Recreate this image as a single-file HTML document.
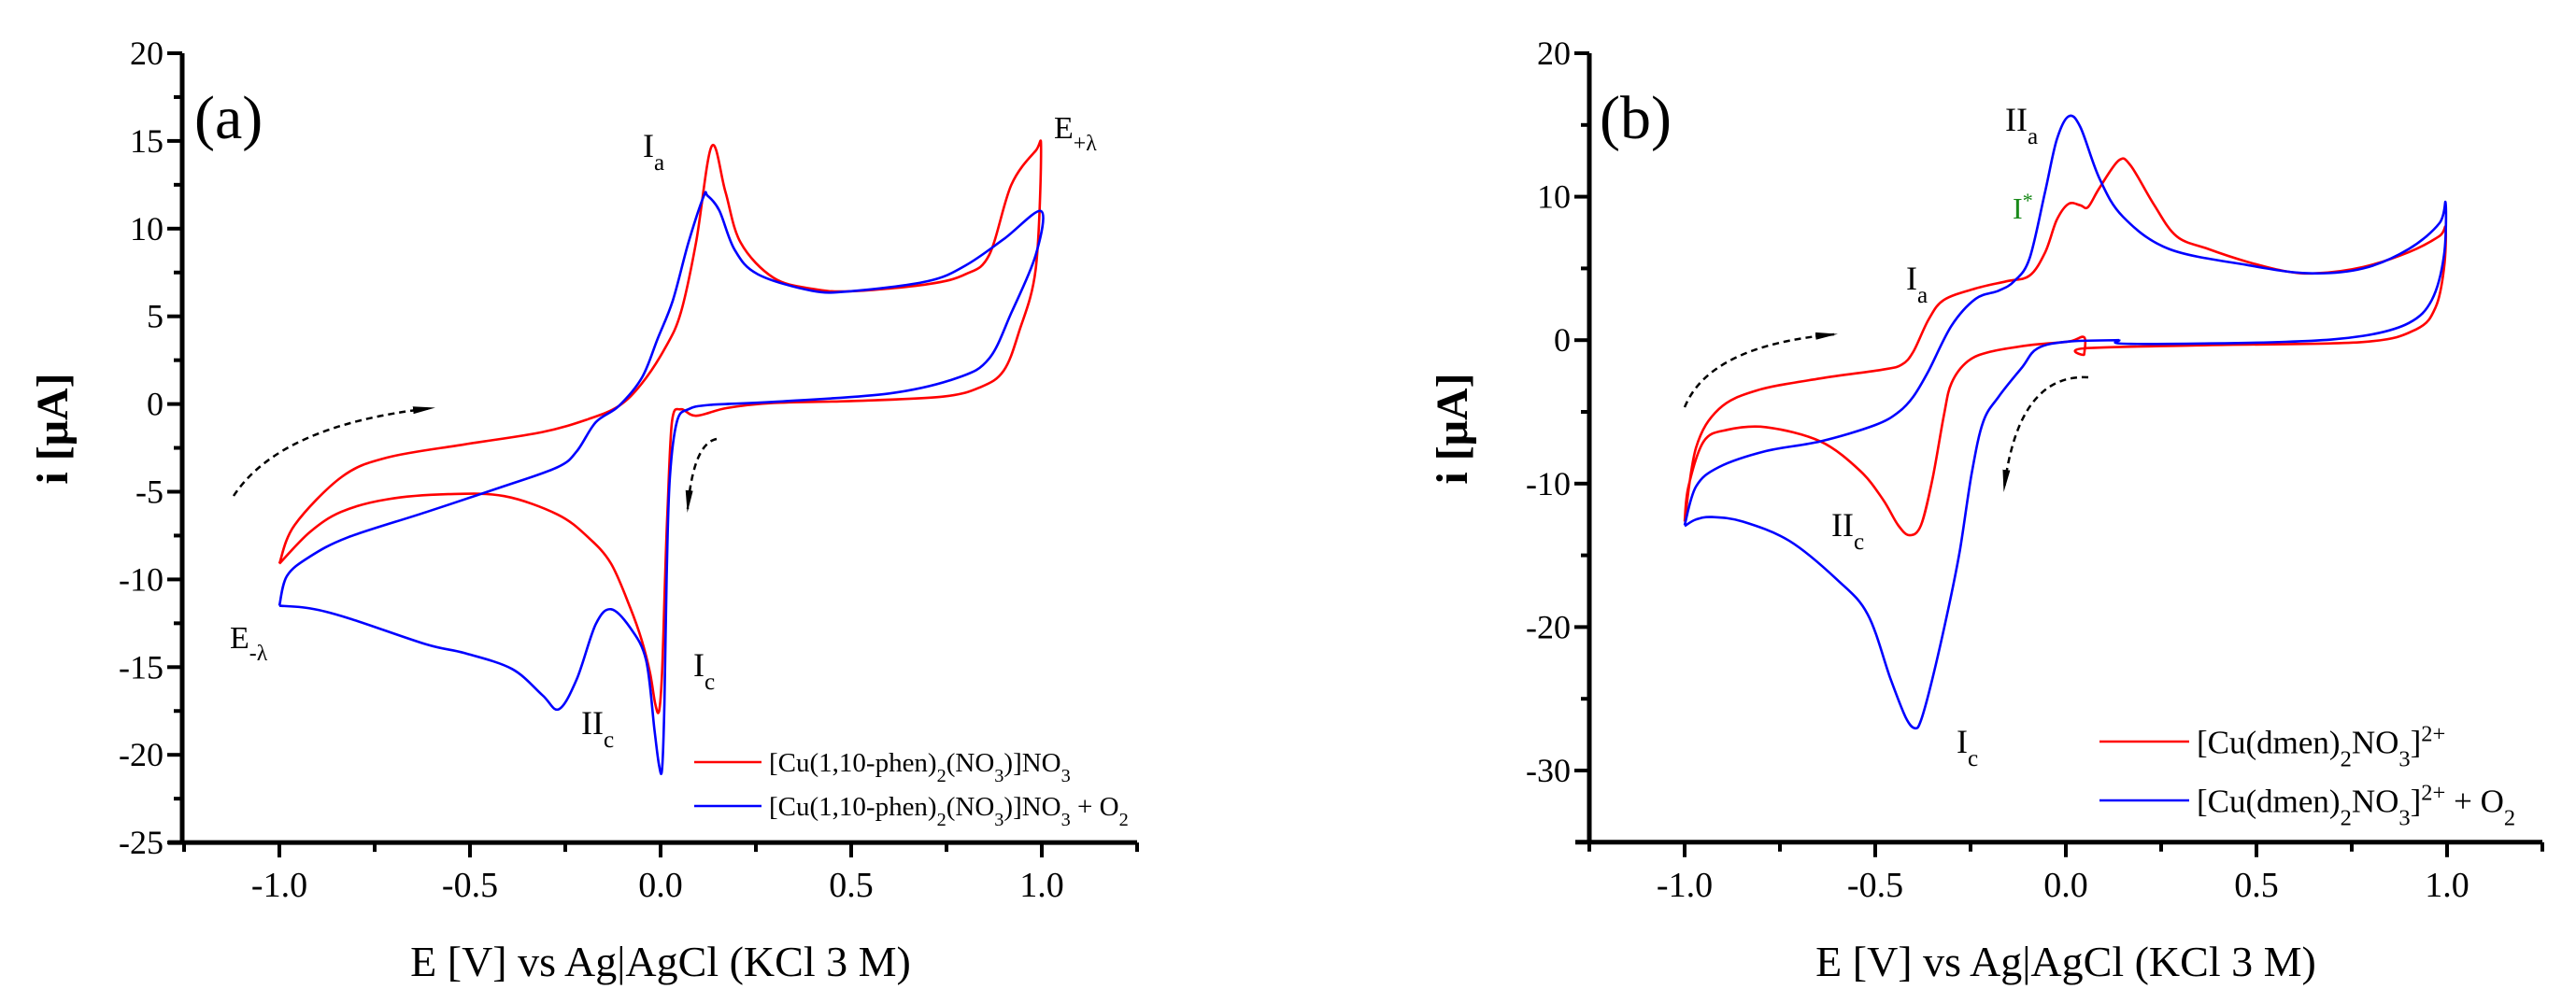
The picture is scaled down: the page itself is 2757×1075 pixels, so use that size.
<!DOCTYPE html>
<html><head><meta charset="utf-8">
<style>
html,body{margin:0;padding:0;background:#fff;}
svg{display:block;font-family:"Liberation Serif",serif;}
</style></head>
<body>
<svg id="chart" width="2757" height="1075" viewBox="0 0 2757 1075" xmlns="http://www.w3.org/2000/svg"></svg>
<script>
// ---------- data: panel (a) ----------
const aRedE = [-1,-0.96,-0.836,-0.717,-0.514,-0.31,-0.19,-0.11,-0.05,0.012,0.053,0.093,0.134,0.17,0.21,0.296,0.397,0.5,0.70,0.8,0.862,0.92,0.984,0.998,
  0.984,0.94,0.9,0.84,0.74,0.5,0.296,0.174,0.093,0.053,0.03,0.018,0.012,0.004,-0.004,-0.014,-0.028,-0.049,-0.08,-0.13,-0.19,-0.27,-0.41,-0.557,-0.717,-0.838,-0.92,-1];
const aRedI = [-9.1,-6.9,-4.15,-3.05,-2.3,-1.6,-0.86,-0.12,1.15,3.2,5.2,9.2,14.7,12.1,9.2,7.2,6.57,6.43,6.83,7.4,8.5,12.5,14.44,14.44,
  7.7,4.1,1.9,0.97,0.42,0.17,0.06,-0.23,-0.67,-0.3,-1.0,-6.2,-9.8,-15.3,-17.5,-17.1,-15.3,-13.5,-11.6,-9.1,-7.6,-6.3,-5.25,-5.14,-5.43,-6.15,-7.3,-9.1];
const aBlueE = [-1,-0.98,-0.92,-0.82,-0.615,-0.413,-0.27,-0.22,-0.17,-0.11,-0.049,-0.008,0.032,0.073,0.113,0.123,0.154,0.194,0.255,0.397,0.5,0.70,0.8,0.9,0.998,
  0.984,0.92,0.862,0.78,0.6,0.3,0.13,0.073,0.043,0.024,0.016,0.01,0.004,-0.004,-0.016,-0.038,-0.08,-0.13,-0.17,-0.22,-0.267,-0.31,-0.39,-0.514,-0.615,-0.82,-0.92,-1];
const aBlueI = [-11.5,-9.8,-8.7,-7.6,-6.16,-4.7,-3.6,-2.7,-1.04,-0.12,1.5,3.7,5.9,9.2,11.84,11.88,11.04,8.8,7.4,6.46,6.43,7.0,7.9,9.4,11.0,
  8.5,5.2,2.6,1.5,0.6,0.13,-0.05,-0.3,-1.0,-4.3,-9.8,-17.1,-20.8,-20.6,-18.6,-14.6,-12.75,-11.7,-12.55,-15.7,-17.4,-16.6,-15.1,-14.2,-13.7,-12.2,-11.65,-11.5];
// ---------- data: panel (b) ----------
const bRedE = [-1,-0.97,-0.91,-0.81,-0.644,-0.48,-0.43,-0.4,-0.36,-0.32,-0.237,-0.156,-0.095,-0.054,-0.024,0.007,0.038,0.058,0.088,0.139,0.17,0.23,0.29,0.373,0.475,0.577,0.658,0.78,0.90,0.98,0.996,
  0.992,0.97,0.92,0.78,0.373,0.048,0.048,0.048,0.007,-0.095,-0.197,-0.257,-0.3,-0.32,-0.35,-0.38,-0.41,-0.44,-0.48,-0.54,-0.644,-0.786,-0.888,-0.95,-0.99,-1];
const bRedI = [-12.65,-7.5,-4.8,-3.5,-2.67,-2.05,-1.7,-0.8,1.44,2.8,3.6,4.1,4.5,6.14,8.37,9.5,9.4,9.27,10.6,12.53,12.17,9.5,7.25,6.36,5.47,4.8,4.66,5.1,6.14,7.25,7.8,
  5.0,2.3,0.77,-0.13,-0.35,-0.57,-1.0,0.2,-0.1,-0.35,-0.8,-1.47,-3.0,-5.27,-9.7,-12.9,-13.6,-12.9,-11.1,-9.1,-7.06,-6.07,-6.25,-7.06,-10.2,-12.65];
const bBlueE = [-1,-0.97,-0.91,-0.786,-0.644,-0.502,-0.44,-0.4,-0.36,-0.3,-0.237,-0.176,-0.135,-0.095,-0.054,-0.024,0.007,0.038,0.088,0.15,0.27,0.475,0.637,0.78,0.90,0.98,0.996,
  0.992,0.96,0.9,0.78,0.577,0.17,0.14];
const bBlueI = [-12.9,-10.2,-8.85,-7.73,-7.06,-5.94,-5.04,-3.93,-2.14,1.0,2.87,3.45,4.12,5.7,10.4,13.96,15.6,14.86,11.28,8.6,6.36,5.24,4.66,5.0,6.36,8.15,9.58,
  5.9,2.8,1.2,0.3,-0.12,-0.26,0.0];
const bBlue2E = [0.14,0.007,-0.074,-0.115,-0.176,-0.217,-0.247,-0.278,-0.308,-0.35,-0.38,-0.396,-0.42,-0.46,-0.52,-0.6,-0.725,-0.847,-0.928,-0.97,-1];
const bBlue2I = [0.0,-0.1,-0.57,-1.9,-3.93,-5.7,-9.3,-14.66,-18.7,-23.6,-26.5,-27.05,-26.3,-23.6,-19.1,-16.7,-14.0,-12.65,-12.33,-12.5,-12.96];
// ---------- ticks ----------
const xTickVals = [-1.0,-0.5,0.0,0.5,1.0];
const xTickLabels = ["-1.0","-0.5","0.0","0.5","1.0"];
const aYTickVals = [-25,-20,-15,-10,-5,0,5,10,15,20];
const aYTickLabels = ["-25","-20","-15","-10","-5","0","5","10","15","20"];
const bYTickVals = [-30,-20,-10,0,10,20];
const bYTickLabels = ["-30","-20","-10","0","10","20"];

const NS="http://www.w3.org/2000/svg";
const svg=document.getElementById('chart');
function mk(tag,attrs,parent){const e=document.createElementNS(NS,tag);for(const k in attrs)e.setAttribute(k,attrs[k]);(parent||svg).appendChild(e);return e;}

const defs=mk('defs',{});
const mkr=mk('marker',{id:'ah',markerWidth:'26',markerHeight:'8',viewBox:'0 0 26 8',refX:'20',refY:'4',orient:'auto',markerUnits:'userSpaceOnUse'},defs);
mk('path',{d:'M0,0 L24,4 L0,8 z',fill:'#000'},mkr);

function smoothPath(pts){
  let d='M'+pts[0][0].toFixed(1)+','+pts[0][1].toFixed(1);
  for(let i=0;i<pts.length-1;i++){
    const p0=pts[Math.max(0,i-1)],p1=pts[i],p2=pts[i+1],p3=pts[Math.min(pts.length-1,i+2)];
    const k=1/6;
    const c1=[p1[0]+(p2[0]-p0[0])*k,p1[1]+(p2[1]-p0[1])*k];
    const c2=[p2[0]-(p3[0]-p1[0])*k,p2[1]-(p3[1]-p1[1])*k];
    d+=` C${c1[0].toFixed(1)},${c1[1].toFixed(1)} ${c2[0].toFixed(1)},${c2[1].toFixed(1)} ${p2[0].toFixed(1)},${p2[1].toFixed(1)}`;
  }
  return d;
}

function panel(p){
  const g=mk('g',{});
  
  
  const X=v=>p.x0+v*408;
  const Y=v=>p.yTop+(p.yMax-v)*p.ppu;
  const yBot=Y(p.yMin);
  const ax=mk('line',{x1:p.axX,y1:p.yTop,x2:p.axX,y2:yBot+2,stroke:'#000','stroke-width':5},g);
  
  
  const bx=mk('line',{x1:p.axX-15,y1:yBot,x2:X(1.25),y2:yBot,stroke:'#000','stroke-width':5},g);
  
  
  for(let v=-1.25;v<=1.2501;v+=0.25){
    const major=Math.abs(v*2-Math.round(v*2))<1e-6;
    mk('line',{x1:X(v),y1:yBot,x2:X(v),y2:yBot+(major?16:10),stroke:'#000','stroke-width':4},g);
  }
  xTickVals.forEach((v,i)=>{
    const t=mk('text',{x:X(v),y:yBot+58,'text-anchor':'middle','font-size':38},g);
    t.textContent=xTickLabels[i];
    
    
  });
  for(let v=p.yMin;v<=p.yMax+1e-6;v+=p.minor){
    const major=Math.abs(v/p.major-Math.round(v/p.major))<1e-6;
    mk('line',{x1:p.axX-(major?16:9),y1:Y(v),x2:p.axX,y2:Y(v),stroke:'#000','stroke-width':4},g);
  }
  p.yv.forEach((v,i)=>{
    const t=mk('text',{x:p.axX-20,y:Y(v)+12,'text-anchor':'end','font-size':36},g);
    t.textContent=p.yl[i];
    
    
  });
  const xt=mk('text',{x:X(0),y:1045,'text-anchor':'middle','font-size':46},g);
  xt.textContent='E [V] vs Ag|AgCl (KCl 3 M)';
  
  
  const yt=mk('text',{x:p.yTitleX,y:459,'text-anchor':'middle','font-size':48,'font-weight':'bold',transform:`rotate(-90 ${p.yTitleX} 459)`},g);
  yt.textContent='i [μA]';
  
  
  p.series.forEach(s=>{
    const pts=s.E.map((e,i)=>[X(e),Y(s.I[i])]);
    const pa=mk('path',{d:smoothPath(pts),fill:'none',stroke:s.color,'stroke-width':2.6,'stroke-linejoin':'round'},g);
    
    
  });
  return g;
}

function txt(x,y,html,size,name,color){
  const t=mk('text',{x:x,y:y,'font-size':size,fill:color||'#000'});
  t.innerHTML=html;
  
  
  return t;
}
function arrow(d,name){
  const a=mk('path',{d:d,fill:'none',stroke:'#000','stroke-width':2.5,'stroke-dasharray':'7,5','marker-end':'url(#ah)'});
  
  
}
function legendEntry(x1,x2,y,color,html,size,name){
  const g=mk('g',{});
  
  
  mk('line',{x1:x1,y1:y,x2:x2,y2:y,stroke:color,'stroke-width':2.6},g);
  const t=mk('text',{x:x2+8,y:y+size*0.35,'font-size':size},g);
  t.innerHTML=html;
}

panel({name:'panel-a',x0:707,axX:195,yTop:57,yMax:20,yMin:-25,ppu:18.78,major:5,minor:2.5,yv:aYTickVals,yl:aYTickLabels,yTitleX:72,
  series:[{name:'red-curve-a',color:'#ff0000',E:aRedE,I:aRedI},{name:'blue-curve-a',color:'#0000ff',E:aBlueE,I:aBlueI}]});
panel({name:'panel-b',x0:2211,axX:1701,yTop:57,yMax:20,yMin:-35,ppu:15.36,major:10,minor:5,yv:bYTickVals,yl:bYTickLabels,yTitleX:1570,
  series:[{name:'red-curve-b',color:'#ff0000',E:bRedE,I:bRedI},{name:'blue-curve-b',color:'#0000ff',E:bBlueE,I:bBlueI},{name:'blue-curve-b-return',color:'#0000ff',E:bBlue2E,I:bBlue2I}]});

const sub=(s)=>`<tspan baseline-shift="sub" font-size="70%">${s}</tspan>`;
const sup=(s)=>`<tspan baseline-shift="super" font-size="70%">${s}</tspan>`;
txt(208,148,'(a)',66,'panel-label-a');
txt(688,168,'I'+sub('a'),36,'label-ia-a');
txt(1128,148,'E'+sub('+λ'),34,'label-e-plus');
txt(246,694,'E'+sub('-λ'),34,'label-e-minus');
txt(742,724,'I'+sub('c'),36,'label-ic-a');
txt(622,786,'II'+sub('c'),36,'label-iic-a');
arrow('M250,531 Q300,455 462,437','scan-arrow-a1');
arrow('M767,470 Q742,475 736,545','scan-arrow-a2');
legendEntry(743,815,816,'#ff0000','[Cu(1,10-phen)'+sub('2')+'(NO'+sub('3')+')]NO'+sub('3'),29,'legend-red-a');
legendEntry(743,815,863,'#0000ff','[Cu(1,10-phen)'+sub('2')+'(NO'+sub('3')+')]NO'+sub('3')+' + O'+sub('2'),29,'legend-blue-a');
txt(1712,148,'(b)',66,'panel-label-b');
txt(2146,140,'II'+sub('a'),36,'label-iia-b');
txt(2154,234,'I'+sup('*'),32,'label-istar-b','#1a8a1a');
txt(2040,310,'I'+sub('a'),36,'label-ia-b');
txt(1960,574,'II'+sub('c'),36,'label-iic-b');
txt(2094,806,'I'+sub('c'),36,'label-ic-b');
arrow('M1803,436 Q1830,370 1963,358','scan-arrow-b1');
arrow('M2235,404 Q2160,400 2145,523','scan-arrow-b2');
legendEntry(2247,2343,794,'#ff0000','[Cu(dmen)'+sub('2')+'NO'+sub('3')+']'+sup('2+'),35,'legend-red-b');
legendEntry(2247,2343,857,'#0000ff','[Cu(dmen)'+sub('2')+'NO'+sub('3')+']'+sup('2+')+' + O'+sub('2'),35,'legend-blue-b');
</script>
</body></html>
